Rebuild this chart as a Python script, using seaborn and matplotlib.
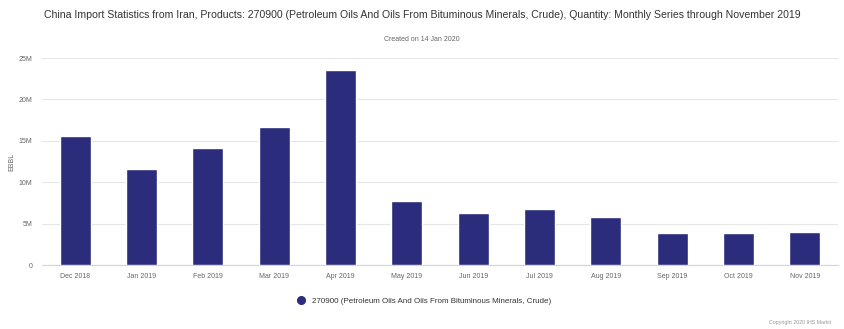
import matplotlib
matplotlib.use("Agg")
import matplotlib.pyplot as plt
import seaborn as sns
import pandas as pd
from matplotlib.ticker import FuncFormatter, FixedLocator
from matplotlib.lines import Line2D

months = ["Dec 2018", "Jan 2019", "Feb 2019", "Mar 2019", "Apr 2019", "May 2019",
          "Jun 2019", "Jul 2019", "Aug 2019", "Sep 2019", "Oct 2019", "Nov 2019"]
values_m = [15.6, 11.6, 14.1, 16.7, 23.5, 7.7, 6.3, 6.8, 5.8, 3.9, 3.9, 4.0]
series_name = "270900 (Petroleum Oils And Oils From Bituminous Minerals, Crude)"
y_ticks_m = [0, 5, 10, 15, 20, 25]

sns.set_theme(style="white")
plt.rcParams['font.family'] = ['Liberation Sans', 'DejaVu Sans']

df = pd.DataFrame({"month": months, "value": [v * 1e6 for v in values_m]})

fig = plt.figure(figsize=(8.44, 3.29), dpi=100)
ax = fig.add_axes([0.0498, 0.1945, 0.943, 0.629])
bar_color = "#2b2c7c"
sns.barplot(data=df, x="month", y="value", color=bar_color, width=0.47,
            saturation=1, ax=ax, zorder=3)
ax.set_ylim(0, 25e6)
ax.set_xlim(-0.5, len(months) - 0.5)
ax.yaxis.set_major_locator(FixedLocator([t * 1e6 for t in y_ticks_m]))
ax.yaxis.set_major_formatter(FuncFormatter(lambda v, p: "0" if v == 0 else f"{int(v/1e6)}M"))
ax.grid(axis="y", color="#e6e6e6", linewidth=0.8, zorder=0)
for s in ["top", "right", "left"]:
    ax.spines[s].set_visible(False)
ax.spines["bottom"].set_color("#ccd6eb")
ax.spines["bottom"].set_linewidth(0.8)
ax.tick_params(axis="y", length=0, labelsize=5, labelcolor="#666666", pad=7)
ax.tick_params(axis="x", length=0, labelsize=5, labelcolor="#666666", pad=6)
ax.set_xticks([i - 0.5 for i in range(len(months) + 1)], minor=True)
ax.tick_params(axis="x", which="minor", length=4, color="#ccd6eb", width=0.8)
ax.set_xlabel("")
ax.set_ylabel("EBBL", fontsize=5, color="#666666")
ax.yaxis.set_label_coords(-0.033, 0.5)

fig.text(0.5, 0.953, "China Import Statistics from Iran, Products: 270900 (Petroleum Oils And Oils From Bituminous Minerals, Crude), Quantity: Monthly Series through November 2019",
         ha="center", va="center", fontsize=7.6, color="#333333")
fig.text(0.5, 0.88, "Created on 14 Jan 2020", ha="center", va="center", fontsize=5, color="#666666")

handle = Line2D([], [], marker="o", linestyle="", markersize=5.5, color=bar_color)
fig.legend([handle], [series_name], loc="center", bbox_to_anchor=(0.5, 0.085),
           frameon=False, fontsize=5.8, handletextpad=0.3, labelcolor="#333333")
fig.text(0.985, 0.02, "Copyright 2020 IHS Markit", ha="right", va="center", fontsize=3.8, color="#999999")

fig.savefig("out.png", dpi=100)
